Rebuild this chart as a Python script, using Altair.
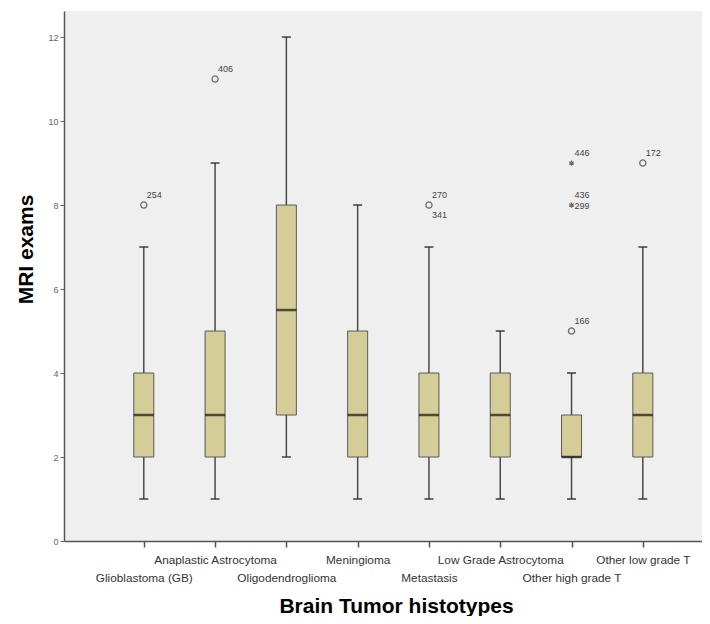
import altair as alt
import pandas as pd

categories = ["Glioblastoma (GB)", "Anaplastic Astrocytoma", "Oligodendroglioma",
              "Meningioma", "Metastasis", "Low Grade Astrocytoma",
              "Other high grade T", "Other low grade T"]
positions = [1, 2, 3, 4, 5, 6, 7, 8]
whisker_low = [1, 1, 2, 1, 1, 1, 1, 1]
q1 = [2, 2, 3, 2, 2, 2, 2, 2]
median = [3, 3, 5.5, 3, 3, 3, 2, 3]
q3 = [4, 5, 8, 5, 4, 4, 3, 4]
whisker_high = [7, 9, 12, 8, 7, 5, 4, 7]

outlier_pos = [1, 2, 5, 7, 7, 7, 8]
outlier_value = [8, 11, 8, 5, 8, 9, 9]
outlier_kind = ["circle", "circle", "circle", "circle", "star", "star", "circle"]

label_pos = [1, 2, 5, 5, 7, 7, 7, 7, 8]
label_value = [8, 11, 8, 8, 5, 8, 8, 9, 9]
label_text = ["254", "406", "270", "341", "166", "436", "299", "446", "172"]
label_place = ["above", "above", "above", "below", "above", "above", "right", "above", "above"]

boxes = pd.DataFrame({"pos": positions, "cat": categories, "lo": whisker_low,
                      "q1": q1, "med": median, "q3": q3, "hi": whisker_high})
outl = pd.DataFrame({"pos": outlier_pos, "val": outlier_value, "kind": outlier_kind})
labs = pd.DataFrame({"pos": label_pos, "val": label_value, "text": label_text,
                     "place": label_place})

cat_js = "[" + ",".join("'" + c + "'" for c in categories) + "]"
label_expr = ("datum.value % 2 == 1 ? ['', " + cat_js + "[datum.value - 1]] : ["
              + cat_js + "[datum.value - 1]]")

x_scale = alt.Scale(domain=[-0.049, 8.76], nice=False, zero=False)
y_scale = alt.Scale(domain=[0, 12.62], nice=False, zero=True)

x_axis = alt.Axis(values=positions, labelExpr=label_expr, grid=False,
                  title="Brain Tumor histotypes", titleFontSize=21, titleFontWeight="bold",
                  titleFont="Liberation Sans", titleColor="#000000",
                  titleX=332, titleY=71, titleBaseline="alphabetic", titleAlign="center",
                  titleAnchor="start",
                  labelFont="Liberation Sans", labelFontSize=11.8, labelColor="#333333",
                  labelLineHeight=18, labelPadding=7, labelOverlap=False, labelFlush=False,
                  labelBound=False,
                  tickSize=6, tickColor="#555555", tickWidth=1.5,
                  domainColor="#555555", domainWidth=1.5)
y_axis = alt.Axis(values=[0, 2, 4, 6, 8, 10, 12], grid=False, format="d",
                  title="MRI exams", titleFontSize=21, titleFontWeight="bold",
                  titleFont="Liberation Sans", titleColor="#000000",
                  titleX=-32, titleY=238, titleAngle=-90, titleBaseline="alphabetic",
                  titleAlign="center", titleAnchor="start",
                  labelFont="Liberation Sans", labelFontSize=9, labelColor="#666666",
                  labelPadding=2, tickSize=4, tickColor="#666666",
                  domainColor="#555555", domainWidth=1.5)

base = alt.Chart(boxes)

whisk_lo = base.mark_rule(color="#4a4a4a", strokeWidth=1.5).encode(
    x=alt.X("pos:Q", scale=x_scale, axis=x_axis),
    y=alt.Y("lo:Q", scale=y_scale, axis=y_axis),
    y2="q1:Q")
whisk_hi = base.mark_rule(color="#4a4a4a", strokeWidth=1.5).encode(
    x="pos:Q", y="q3:Q", y2="hi:Q")
cap_lo = base.mark_tick(color="#333333", size=9, thickness=2, orient="horizontal").encode(
    x="pos:Q", y="lo:Q")
cap_hi = base.mark_tick(color="#333333", size=9, thickness=2, orient="horizontal").encode(
    x="pos:Q", y="hi:Q")
box = base.mark_bar(size=20, color="#d4cd97", stroke="#5a5a5a", strokeWidth=1).encode(
    x="pos:Q", y="q1:Q", y2="q3:Q")
med = base.mark_tick(color="#111111", size=20, thickness=2.5, orient="horizontal").encode(
    x="pos:Q", y="med:Q")

circles = alt.Chart(outl).transform_filter(alt.datum.kind == "circle").mark_point(
    shape="circle", filled=False, size=38, color="#333333", strokeWidth=1.3).encode(
    x="pos:Q", y="val:Q")
star_path = "M0,-1L0,1M-0.87,-0.5L0.87,0.5M-0.87,0.5L0.87,-0.5"
stars = alt.Chart(outl).transform_filter(alt.datum.kind == "star").mark_point(
    shape=star_path, filled=False, size=28, color="#333333", strokeWidth=1.3).encode(
    x="pos:Q", y="val:Q")

txt_style = dict(font="Liberation Sans", fontSize=9, color="#444444", align="left")
t_above = alt.Chart(labs).transform_filter(alt.datum.place == "above").mark_text(
    dx=3, dy=-10, baseline="middle", **txt_style).encode(x="pos:Q", y="val:Q", text="text:N")
t_below = alt.Chart(labs).transform_filter(alt.datum.place == "below").mark_text(
    dx=3, dy=10, baseline="middle", **txt_style).encode(x="pos:Q", y="val:Q", text="text:N")
t_right = alt.Chart(labs).transform_filter(alt.datum.place == "right").mark_text(
    dx=3, dy=0.5, baseline="middle", **txt_style).encode(x="pos:Q", y="val:Q", text="text:N")

chart = alt.layer(whisk_lo, whisk_hi, cap_lo, cap_hi, box, med, circles, stars,
                  t_above, t_below, t_right).properties(
    width=638, height=530,
    autosize=alt.AutoSizeParams(type="none"),
    padding={"left": 56, "top": 3, "right": 0, "bottom": 75},
    background="#ffffff",
).configure_view(fill="#efefef", stroke=None)

chart.save("out.html", embed_options={"renderer": "svg", "actions": False})
